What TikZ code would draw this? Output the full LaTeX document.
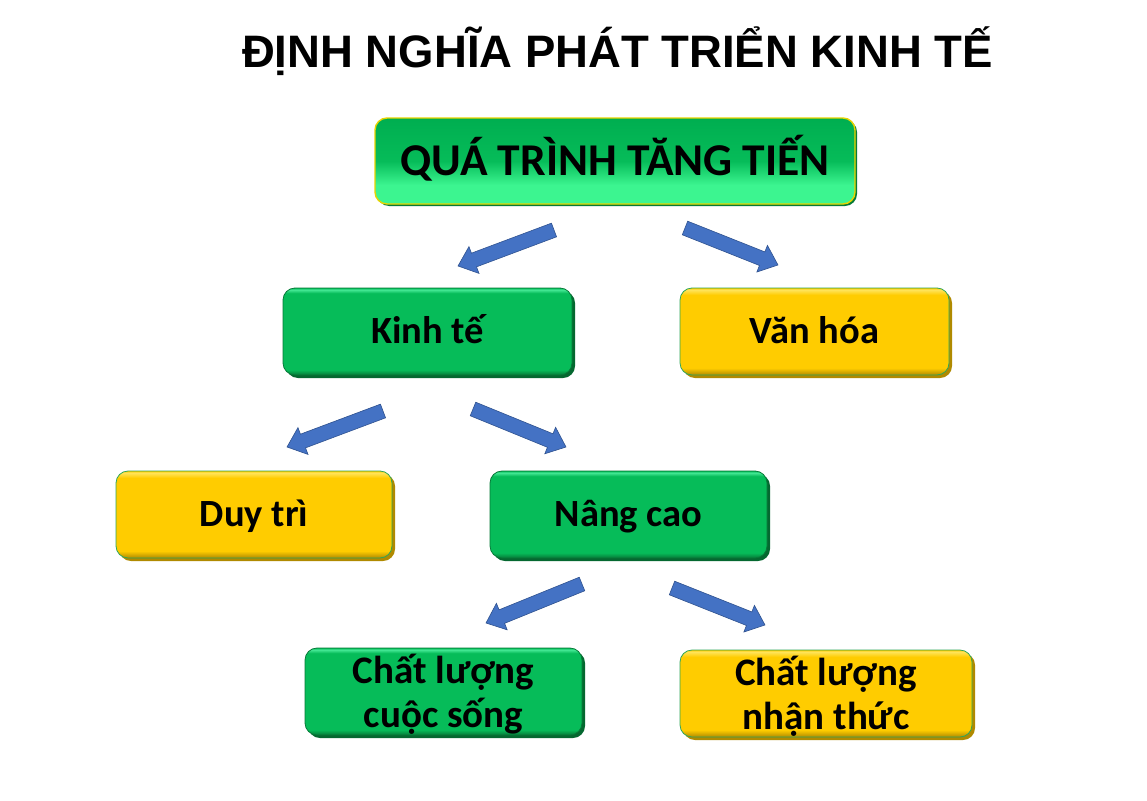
\documentclass[tikz,border=0pt]{standalone}
\usepackage{fontspec}
\setmainfont{Carlito}
\newfontfamily\titlefont{Liberation Sans}
\usetikzlibrary{shapes.arrows,calc,shadows}
\definecolor{gbase}{HTML}{06BC59}
\definecolor{gdark}{HTML}{067A38}
\definecolor{glight}{HTML}{45E895}
\definecolor{ybase}{HTML}{FFCC00}
\definecolor{ydark}{HTML}{B08A00}
\definecolor{ylight}{HTML}{FFE45C}
\definecolor{ytrim}{HTML}{E8D400}
\definecolor{gtrim}{HTML}{2FA65A}
\definecolor{topbright}{HTML}{3CF590}
\definecolor{topdark}{HTML}{00AE50}
\definecolor{abody}{HTML}{4472C4}
\definecolor{aedge}{HTML}{2F528F}
\pgfdeclareverticalshading{greenbevel}{100bp}{color(0bp)=(gdark); color(25bp)=(gdark); color(28bp)=(gbase); color(72bp)=(gbase); color(74bp)=(glight); color(75bp)=(gbase); color(100bp)=(gbase)}
\pgfdeclareverticalshading{yellowbevel}{100bp}{color(0bp)=(ydark); color(25bp)=(ydark); color(29bp)=(ybase); color(71bp)=(ybase); color(74bp)=(ylight); color(75bp)=(ybase); color(100bp)=(ybase)}
\pgfdeclareverticalshading{topshade}{100bp}{color(0bp)=(topbright); color(25bp)=(topbright); color(36bp)=(topbright); color(50bp)=(gbase); color(75bp)=(topdark); color(100bp)=(topdark)}
\tikzset{
  boxbase/.style={rectangle, rounded corners=12pt, inner sep=0pt, outer sep=0pt, align=center, line width=0.8pt, text=black},
  greenbox/.style={boxbase, shade, shading=greenbevel, draw=gdark,
    general shadow={shadow xshift=3pt, shadow yshift=-3pt, fill=gdark!85!black}},
  yellowbox/.style={boxbase, shade, shading=yellowbevel, draw=gtrim,
    general shadow={shadow xshift=3pt, shadow yshift=-3pt, fill=ydark}},
  topbox/.style={boxbase, shade, shading=topshade, draw=ytrim, line width=1.4pt,
    general shadow={shadow xshift=2pt, shadow yshift=-2pt, fill=gdark}},
  onetext/.style={font=\bfseries\fontsize{38.5}{40}\selectfont, text height=24.5pt, text depth=0pt},
  twotext/.style={font=\bfseries\fontsize{39}{44}\selectfont, text height=71pt, text depth=0pt},
  toptext/.style={font=\bfseries\fontsize{45.5}{50}\selectfont, text height=29pt, text depth=0pt},
  bluearrow/.style={single arrow, draw=aedge, fill=abody, line width=0.6pt,
    inner xsep=0pt, inner ysep=7pt, single arrow head extend=7pt,
    single arrow tip angle=80, single arrow head indent=0pt, outer sep=0pt, minimum width=0pt}
}
\newcommand\blockarrow[3]{%
  \path let \p1=($(#3)-(#2)$), \n1={atan2(\y1,\x1)}, \n2={veclen(\x1,\y1)} in
    node[bluearrow, minimum height=\n2, rotate=\n1, anchor=tail] (#1) at (#2) {};}
\begin{document}
\begin{tikzpicture}[x=1pt,y=-1pt]
\useasboundingbox[fill=white] (0,0) rectangle (1147,800);

\node[anchor=base, font=\titlefont\bfseries\fontsize{45.5}{50}\selectfont] (title) at (617.5,67) {ĐỊNH NGHĨA PHÁT TRIỂN KINH TẾ};

\node[topbox, toptext, minimum width=480pt, minimum height=86pt] (qt) at (615,161) {QUÁ TRÌNH TĂNG TIẾN};

\node[greenbox, onetext, minimum width=289pt, minimum height=87pt] (kt) at (427.5,331.5) {Kinh tế};
\node[yellowbox, onetext, minimum width=269pt, minimum height=87pt] (vh) at (814.5,331.5) {Văn hóa};

\node[yellowbox, onetext, minimum width=276pt, minimum height=87pt] (dt) at (254,514.5) {Duy trì};
\node[greenbox, onetext, minimum width=277pt, minimum height=87pt] (nc) at (628.5,514.5) {Nâng cao};

\node[greenbox, twotext, minimum width=277pt, minimum height=87pt] (cls) at (443.5,691.5) {Chất lượng\\cuộc sống};
\node[yellowbox, twotext, minimum width=292pt, minimum height=87pt] (clnt) at (826,693.5) {Chất lượng\\nhận thức};

\coordinate (a1s) at (554,230); \coordinate (a1e) at (458,266);
\coordinate (a2s) at (685,228); \coordinate (a2e) at (778,265);
\coordinate (a3s) at (383,411); \coordinate (a3e) at (287,447);
\coordinate (a4s) at (473,409); \coordinate (a4e) at (566,447);
\coordinate (a5s) at (582,584); \coordinate (a5e) at (486,623);
\coordinate (a6s) at (672,588); \coordinate (a6e) at (765,625);

\blockarrow{ar1}{a1s}{a1e}
\blockarrow{ar2}{a2s}{a2e}
\blockarrow{ar3}{a3s}{a3e}
\blockarrow{ar4}{a4s}{a4e}
\blockarrow{ar5}{a5s}{a5e}
\blockarrow{ar6}{a6s}{a6e}
\end{tikzpicture}
\end{document}
